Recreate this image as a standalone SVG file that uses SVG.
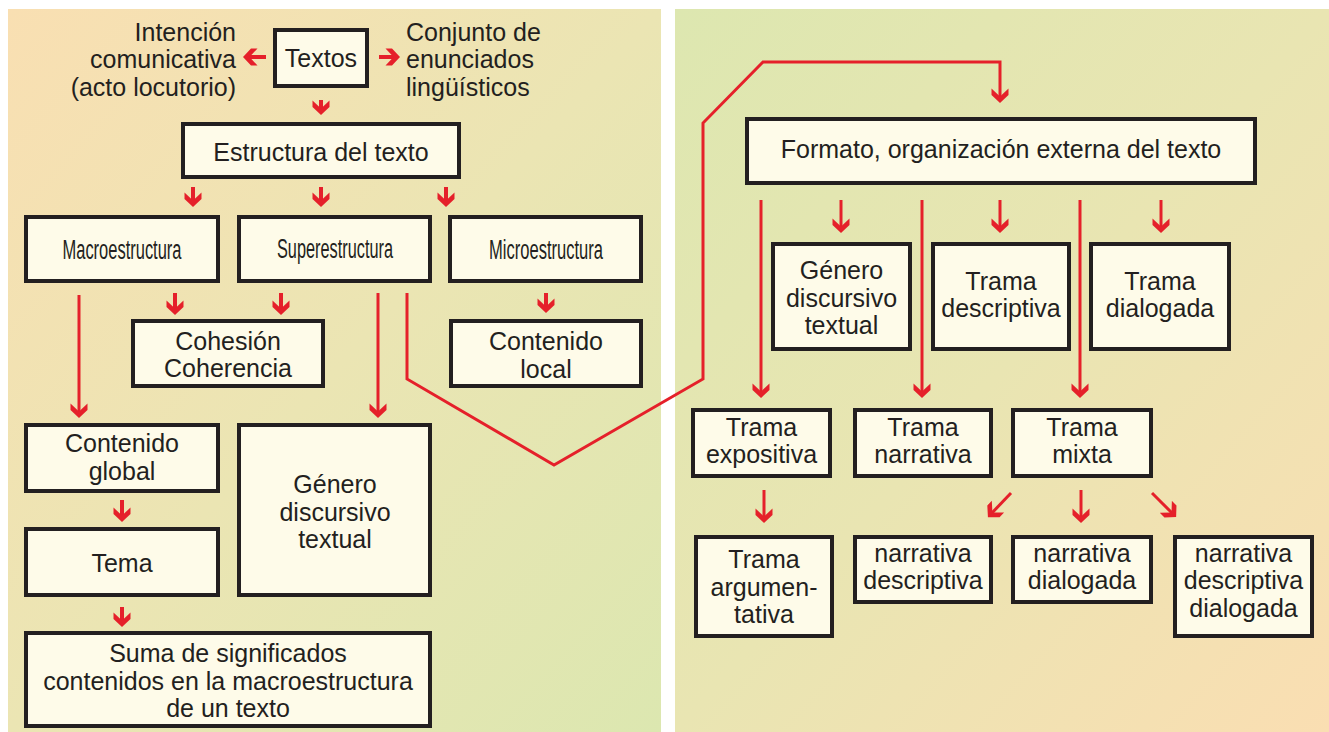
<svg xmlns="http://www.w3.org/2000/svg" width="1329" height="732" viewBox="0 0 1329 732">
<defs>
<linearGradient id="gL" x1="0" y1="0" x2="1" y2="1">
<stop offset="0" stop-color="#f9dfb2"/>
<stop offset="0.5" stop-color="#ebe5b3"/>
<stop offset="1" stop-color="#dce7b0"/>
</linearGradient>
<linearGradient id="gR" x1="0" y1="0" x2="1" y2="1">
<stop offset="0" stop-color="#dde7b0"/>
<stop offset="0.5" stop-color="#e9e5b2"/>
<stop offset="1" stop-color="#fadeb2"/>
</linearGradient>
<marker id="ah" markerUnits="userSpaceOnUse" viewBox="-15 -9 16 18" markerWidth="16" markerHeight="18" refX="-3" refY="0" orient="auto">
<path d="M0,0 L-8,8.5 L-14.5,8.5 L-6.5,0 L-14.5,-8.5 L-8,-8.5 Z" fill="#e5202a"/>
</marker>
<style>
.box{fill:#fefbe9;stroke:#231f20;stroke-width:4}
.t{font-family:"Liberation Sans",Arial,sans-serif;font-size:25px;fill:#231f20;text-anchor:middle}
.c{font-family:"Liberation Sans",Arial,sans-serif;font-size:27px;fill:#231f20;text-anchor:middle}
.arr{fill:none;stroke:#e5202a;stroke-width:3;marker-end:url(#ah)}
.s{stroke-width:4}
</style>
</defs>
<rect x="0" y="0" width="1329" height="732" fill="#ffffff"/>
<rect x="8" y="9" width="653" height="723" fill="url(#gL)"/>
<rect x="675" y="9" width="654" height="723" fill="url(#gR)"/>

<g id="connectors">
<path class="arr s" d="M266,57 L246,57"/>
<path class="arr s" d="M379,57 L397,57"/>
<path class="arr s" d="M321,100 L321,112"/>
<path class="arr s" d="M193,187 L193,204"/>
<path class="arr s" d="M321,187 L321,204"/>
<path class="arr s" d="M446,187 L446,204"/>
<path class="arr s" d="M175,293 L175,312"/>
<path class="arr s" d="M281,293 L281,312"/>
<path class="arr s" d="M546,293 L546,310"/>
<path class="arr" d="M79,295 L79,415"/>
<path class="arr" d="M378,293 L378,415"/>
<path class="arr s" d="M122,500 L122,519"/>
<path class="arr s" d="M122,607 L122,624"/>
<path class="arr" d="M407,293 L407,379 L554,465 L703,379 L703,123 L763,62 L1000,62 L1000,100"/>
<path class="arr" d="M841,200 L841,230"/>
<path class="arr" d="M1000,200 L1000,230"/>
<path class="arr" d="M1161,200 L1161,230"/>
<path class="arr" d="M761,200 L761,395"/>
<path class="arr" d="M922,200 L922,395"/>
<path class="arr" d="M1080,200 L1080,395"/>
<path class="arr" d="M764,490 L764,520"/>
<path class="arr" d="M1081,490 L1081,520"/>
<path class="arr" d="M1011,493 L990,515"/>
<path class="arr" d="M1152,493 L1174,515"/>
</g>

<g id="intencion">
<text class="t" style="text-anchor:end" x="236" y="40.5">Intención</text>
<text class="t" style="text-anchor:end" x="236" y="68">comunicativa</text>
<text class="t" style="text-anchor:end" x="236" y="95.5">(acto locutorio)</text>
</g>
<g id="conjunto">
<text class="t" style="text-anchor:start" x="406" y="40.5">Conjunto de</text>
<text class="t" style="text-anchor:start" x="406" y="68">enunciados</text>
<text class="t" style="text-anchor:start" x="406" y="95.5">lingüísticos</text>
</g>
<g id="textos">
<rect class="box" x="275" y="30" width="92" height="56"/>
<text class="t" x="321" y="66.5">Textos</text>
</g>
<g id="estructura">
<rect class="box" x="183" y="124" width="276" height="53"/>
<text class="t" x="321" y="160.5">Estructura del texto</text>
</g>
<g id="macro">
<rect class="box" x="26" y="217" width="192" height="64"/>
<text class="c" x="122" y="259" textLength="119" lengthAdjust="spacingAndGlyphs">Macroestructura</text>
</g>
<g id="super">
<rect class="box" x="239" y="217" width="191" height="64"/>
<text class="c" x="335" y="258" textLength="116" lengthAdjust="spacingAndGlyphs">Superestructura</text>
</g>
<g id="micro">
<rect class="box" x="450" y="217" width="191" height="64"/>
<text class="c" x="546" y="259" textLength="114" lengthAdjust="spacingAndGlyphs">Microestructura</text>
</g>
<g id="cohesion">
<rect class="box" x="133" y="321" width="190" height="65"/>
<text class="t" x="228" y="350">Cohesión</text>
<text class="t" x="228" y="377">Coherencia</text>
</g>
<g id="local">
<rect class="box" x="451" y="321" width="190" height="65"/>
<text class="t" x="546" y="350">Contenido</text>
<text class="t" x="546" y="377.5">local</text>
</g>
<g id="global">
<rect class="box" x="26" y="425" width="192" height="66"/>
<text class="t" x="122" y="452">Contenido</text>
<text class="t" x="122" y="480">global</text>
</g>
<g id="tema">
<rect class="box" x="26" y="529" width="192" height="66"/>
<text class="t" x="122" y="572">Tema</text>
</g>
<g id="genero-izq">
<rect class="box" x="239" y="425" width="191" height="170"/>
<text class="t" x="335" y="493">Género</text>
<text class="t" x="335" y="520.5">discursivo</text>
<text class="t" x="335" y="548">textual</text>
</g>
<g id="suma">
<rect class="box" x="26" y="633" width="404" height="93"/>
<text class="t" x="228" y="662">Suma de significados</text>
<text class="t" x="228" y="690">contenidos en la macroestructura</text>
<text class="t" x="228" y="717">de un texto</text>
</g>

<g id="formato">
<rect class="box" x="747" y="119" width="508" height="64"/>
<text class="t" x="1001" y="158">Formato, organización externa del texto</text>
</g>
<g id="genero-der">
<rect class="box" x="773" y="244" width="137" height="105"/>
<text class="t" x="841.5" y="279">Género</text>
<text class="t" x="841.5" y="306.5">discursivo</text>
<text class="t" x="841.5" y="334">textual</text>
</g>
<g id="descriptiva">
<rect class="box" x="933" y="244" width="136" height="105"/>
<text class="t" x="1001" y="290">Trama</text>
<text class="t" x="1001" y="317">descriptiva</text>
</g>
<g id="dialogada">
<rect class="box" x="1091" y="244" width="138" height="105"/>
<text class="t" x="1160" y="290">Trama</text>
<text class="t" x="1160" y="317">dialogada</text>
</g>
<g id="expositiva">
<rect class="box" x="693" y="410" width="137" height="66"/>
<text class="t" x="761.5" y="435.5">Trama</text>
<text class="t" x="761.5" y="463">expositiva</text>
</g>
<g id="narrativa">
<rect class="box" x="855" y="410" width="136" height="66"/>
<text class="t" x="923" y="435.5">Trama</text>
<text class="t" x="923" y="463">narrativa</text>
</g>
<g id="mixta">
<rect class="box" x="1013" y="410" width="138" height="66"/>
<text class="t" x="1082" y="435.5">Trama</text>
<text class="t" x="1082" y="463">mixta</text>
</g>
<g id="argumentativa">
<rect class="box" x="696" y="537" width="136" height="99"/>
<text class="t" x="764" y="568">Trama</text>
<text class="t" x="764" y="596">argumen-</text>
<text class="t" x="764" y="623">tativa</text>
</g>
<g id="narr-desc">
<rect class="box" x="855" y="537" width="136" height="65"/>
<text class="t" x="923" y="562">narrativa</text>
<text class="t" x="923" y="589">descriptiva</text>
</g>
<g id="narr-dial">
<rect class="box" x="1013" y="537" width="138" height="65"/>
<text class="t" x="1082" y="562">narrativa</text>
<text class="t" x="1082" y="589">dialogada</text>
</g>
<g id="narr-desc-dial">
<rect class="box" x="1175" y="537" width="137" height="99"/>
<text class="t" x="1243.5" y="562">narrativa</text>
<text class="t" x="1243.5" y="589">descriptiva</text>
<text class="t" x="1243.5" y="617">dialogada</text>
</g>
</svg>
